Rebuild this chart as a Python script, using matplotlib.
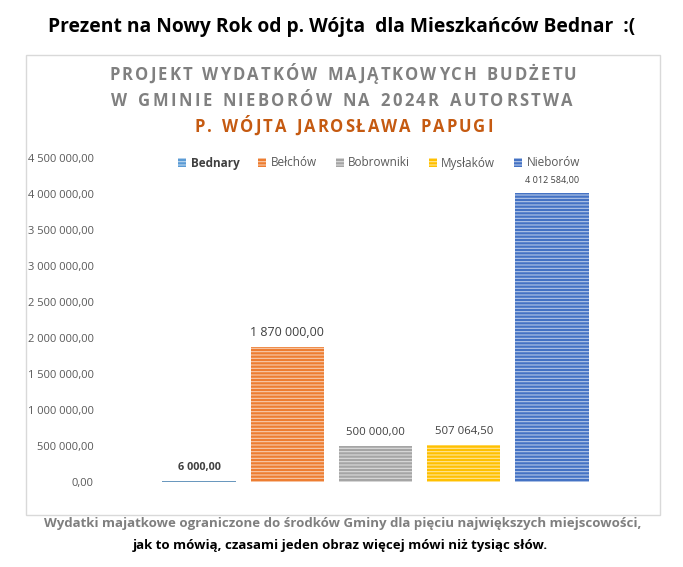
import matplotlib
matplotlib.use("Agg")
import matplotlib.pyplot as plt
from matplotlib.patches import Rectangle, Patch

categories = ["Bednary", "Bełchów", "Bobrowniki", "Mysłaków", "Nieborów"]
values = [6000.00, 1870000.00, 500000.00, 507064.50, 4012584.00]
value_labels = ["6 000,00", "1 870 000,00", "500 000,00", "507 064,50", "4 012 584,00"]
yticks = [0, 500000, 1000000, 1500000, 2000000, 2500000, 3000000, 3500000, 4000000, 4500000]
ytick_labels = ["0,00", "500 000,00", "1 000 000,00", "1 500 000,00", "2 000 000,00",
                "2 500 000,00", "3 000 000,00", "3 500 000,00", "4 000 000,00", "4 500 000,00"]
colors = ["#5B9BD5", "#ED7D31", "#A5A5A5", "#FFC000", "#4472C4"]
stripe = ["#BDD7EE", "#F8CBAD", "#DBDBDB", "#FFE699", "#B4C7E7"]
title_lines = ["PROJEKT WYDATKÓW MAJĄTKOWYCH BUDŻETU",
               "W GMINIE NIEBORÓW NA 2024R AUTORSTWA",
               "P. WÓJTA JAROSŁAWA PAPUGI"]

plt.rcParams['font.family'] = ['Open Sans', 'DejaVu Sans']
plt.rcParams['hatch.linewidth'] = 0.8

W, H = 683, 567
fig = plt.figure(figsize=(W / 100, H / 100), dpi=100)
renderer = fig.canvas.get_renderer()

def fx(px):
    return px / W

def fy(py):
    return 1 - py / H

# chart box
fig.patches.append(Rectangle((fx(26), fy(515)), fx(660) - fx(26), fy(55) - fy(515),
                             transform=fig.transFigure, facecolor="white",
                             edgecolor="#D9D9D9", linewidth=1.0, zorder=-5))

ax = fig.add_axes([fx(155), fy(482), fx(596) - fx(155), fy(158) - fy(482)])
ax.set_facecolor("none")
for i, (v, c, s) in enumerate(zip(values, colors, stripe)):
    ax.bar(i, v, width=0.83, color=c, edgecolor=s, hatch="-----", linewidth=0, zorder=2)
    if i == 0:
        ax.plot([i - 0.415, i + 0.415], [v, v], color="#5B8DB8", lw=1.3, zorder=3,
                solid_capstyle="butt")
label_sizes = [7.8, 9.0, 8.2, 8.2, 6.5]
for i, (v, lab) in enumerate(zip(values, value_labels)):
    ax.annotate(lab, (i, v), xytext=(0, 6), textcoords="offset points",
                ha="center", va="bottom", color="#404040",
                fontsize=label_sizes[i],
                fontweight="bold" if i == 0 else "normal")

ax.set_xlim(-0.5, 4.5)
ax.set_ylim(0, 4500000)
ax.set_yticks(yticks)
ax.set_yticklabels(ytick_labels, fontsize=8, color="#595959")
ax.tick_params(axis="y", length=0, pad=44)
ax.set_xticks([])
for sp in ax.spines.values():
    sp.set_visible(False)

handles = [Patch(facecolor=c, edgecolor=s, hatch="-----", linewidth=0)
           for c, s in zip(colors, stripe)]
leg = fig.legend(handles, categories, ncol=5, frameon=False,
                 loc="center", bbox_to_anchor=(fx(379), fy(163)),
                 fontsize=8.5, handlelength=0.7, handleheight=0.7,
                 handletextpad=0.35, columnspacing=1.6)
for i, t in enumerate(leg.get_texts()):
    t.set_color("#404040" if i == 0 else "#595959")
    if i == 0:
        t.set_fontweight("bold")

fig.text(fx(342), fy(27), "Prezent na Nowy Rok od p. Wójta  dla Mieszkańców Bednar  :(",
         ha="center", va="center", fontsize=13.9, fontweight="bold", color="black")


def tracked_text(s, cx, cy, target_w, **kw):
    """Draw text with letter spacing so that it spans target_w pixels."""
    widths = []
    for ch in s:
        t = fig.text(0, 0, ch if ch != " " else "n", **kw)
        bb = t.get_window_extent(renderer)
        w = bb.width
        if ch == " ":
            w *= 0.55
        widths.append(w)
        t.remove()
    natural = sum(widths)
    track = (target_w - natural) / (len(s) - 1)
    x0 = cx - target_w / 2
    for ch, w in zip(s, widths):
        if ch != " ":
            fig.text(fx(x0), fy(cy), ch, ha="left", va="center", **kw)
        x0 += w + track


tkw = dict(fontsize=12.0, fontweight="bold")
tracked_text(title_lines[0], 343, 75, 467, color="#808080", **tkw)
tracked_text(title_lines[1], 342, 101, 462, color="#808080", **tkw)
tracked_text(title_lines[2], 344, 127, 298, color="#C55A11", **tkw)

fig.text(fx(343), fy(524), "Wydatki majatkowe ograniczone do środków Gminy dla pięciu największych miejscowości,",
         ha="center", va="center", fontsize=9.5, fontweight="bold", color="#7F7F7F")
fig.text(fx(340), fy(546), "jak to mówią, czasami jeden obraz więcej mówi niż tysiąc słów.",
         ha="center", va="center", fontsize=9.5, fontweight="bold", color="black")

fig.savefig("out.png", dpi=100)
